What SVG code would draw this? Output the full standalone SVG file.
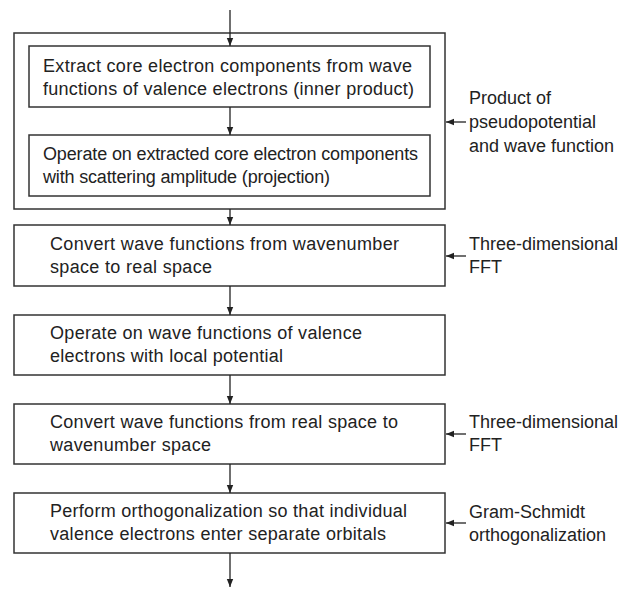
<svg xmlns="http://www.w3.org/2000/svg" width="630" height="590" viewBox="0 0 630 590">
<style>
.box{fill:#fff;stroke:#333;stroke-width:1.5}
.t{font-family:"Liberation Sans",Arial,sans-serif;font-size:18px;fill:#222}
.c{stroke:#222;stroke-width:1.3;fill:none;marker-end:url(#ah)}
</style>
<defs>
<marker id="ah" viewBox="0 0 8 8" refX="8" refY="4" markerWidth="8" markerHeight="8" markerUnits="userSpaceOnUse" orient="auto">
<path d="M0,0.8 L8,4 L0,7.2 Z" fill="#222"/>
</marker>
</defs>
<rect width="630" height="590" fill="#fff"/>
<g id="outer"><rect class="box" x="14" y="33" width="431" height="176"/></g>
<g id="n1"><rect class="box" x="29" y="46" width="401" height="61"/>
<text class="t" x="43" y="72" textLength="369" lengthAdjust="spacing">Extract core electron components from wave</text>
<text class="t" x="43" y="95" textLength="371" lengthAdjust="spacing">functions of valence electrons (inner product)</text></g>
<g id="n2"><rect class="box" x="29" y="135" width="401" height="61"/>
<text class="t" x="43" y="160" textLength="375" lengthAdjust="spacing">Operate on extracted core electron components</text>
<text class="t" x="43" y="183" textLength="287" lengthAdjust="spacing">with scattering amplitude (projection)</text></g>
<g id="n3"><rect class="box" x="14" y="225" width="431" height="61"/>
<text class="t" x="50" y="250" textLength="349" lengthAdjust="spacing">Convert wave functions from wavenumber</text>
<text class="t" x="50" y="273" textLength="162" lengthAdjust="spacing">space to real space</text></g>
<g id="n4"><rect class="box" x="14" y="315" width="431" height="60"/>
<text class="t" x="50" y="339" textLength="312" lengthAdjust="spacing">Operate on wave functions of valence</text>
<text class="t" x="50" y="362" textLength="233" lengthAdjust="spacing">electrons with local potential</text></g>
<g id="n5"><rect class="box" x="14" y="404" width="431" height="60"/>
<text class="t" x="50" y="428" textLength="348" lengthAdjust="spacing">Convert wave functions from real space to</text>
<text class="t" x="50" y="451" textLength="161" lengthAdjust="spacing">wavenumber space</text></g>
<g id="n6"><rect class="box" x="14" y="493" width="431" height="60"/>
<text class="t" x="50" y="517" textLength="357" lengthAdjust="spacing">Perform orthogonalization so that individual</text>
<text class="t" x="50" y="540" textLength="336" lengthAdjust="spacing">valence electrons enter separate orbitals</text></g>
<g id="l1"><text class="t" x="469" y="104">Product of</text>
<text class="t" x="469" y="128">pseudopotential</text>
<text class="t" x="469" y="152">and wave function</text></g>
<g id="l2"><text class="t" x="469" y="250">Three-dimensional</text>
<text class="t" x="469" y="273">FFT</text></g>
<g id="l3"><text class="t" x="469" y="428">Three-dimensional</text>
<text class="t" x="469" y="451">FFT</text></g>
<g id="l4"><text class="t" x="469" y="518">Gram-Schmidt</text>
<text class="t" x="469" y="541">orthogonalization</text></g>
<g id="connectors">
<line class="c" x1="230" y1="10" x2="230" y2="46"/>
<line class="c" x1="230" y1="107" x2="230" y2="135"/>
<line class="c" x1="230" y1="209" x2="230" y2="225"/>
<line class="c" x1="230" y1="286" x2="230" y2="315"/>
<line class="c" x1="230" y1="375" x2="230" y2="404"/>
<line class="c" x1="230" y1="464" x2="230" y2="493"/>
<line class="c" x1="230" y1="553" x2="230" y2="587"/>
<line class="c" x1="466" y1="122" x2="446" y2="122"/>
<line class="c" x1="466" y1="256" x2="446" y2="256"/>
<line class="c" x1="466" y1="434" x2="446" y2="434"/>
<line class="c" x1="466" y1="523" x2="446" y2="523"/>
</g>
</svg>
